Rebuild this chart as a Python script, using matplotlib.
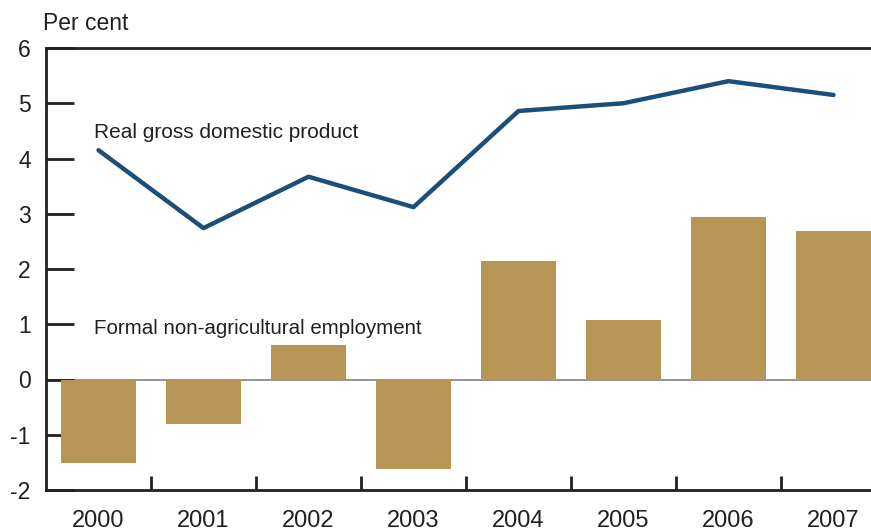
import matplotlib.pyplot as plt
import numpy as np

years = ["2000", "2001", "2002", "2003", "2004", "2005", "2006", "2007"]
gdp = [4.15, 2.74, 3.67, 3.12, 4.86, 5.00, 5.40, 5.15]
employment = [-1.51, -0.81, 0.62, -1.62, 2.14, 1.08, 2.94, 2.69]
y_ticks = [-2, -1, 0, 1, 2, 3, 4, 5, 6]

bar_color = "#b79655"
line_color = "#1b4f7a"
ink = "#231f20"

plt.rcParams["font.family"] = ["Liberation Sans", "DejaVu Sans"]

W, H = 871, 532
fig = plt.figure(figsize=(W / 100, H / 100), dpi=100)
# axes in pixel coordinates: left spine x=46, top y=48, bottom y=490
ax = fig.add_axes([46 / W, 1 - 490 / H, (W - 46) / W, (490 - 48) / H])

x = np.arange(len(years))
ax.bar(x, employment, width=0.72, color=bar_color, zorder=2)
ax.plot(x, gdp, color=line_color, lw=3.2, solid_capstyle="round", zorder=3)
ax.axhline(0, color="#808080", lw=1.2, zorder=1)

ax.set_xlim(-0.5, -0.5 + (W - 46) / 105)
ax.set_ylim(-2, 6)

for s in ["left", "top", "bottom"]:
    ax.spines[s].set_color(ink)
    ax.spines[s].set_linewidth(2)
ax.spines["right"].set_visible(False)

ax.set_yticks(y_ticks)
ax.set_yticklabels([str(v) for v in y_ticks])
ax.tick_params(axis="y", direction="in", length=20, width=2, color=ink,
               labelsize=16.5, labelcolor=ink, pad=11)
ax.set_xticks(x[:-1] + 0.5)
ax.set_xticklabels([])
ax.tick_params(axis="x", direction="in", length=10, width=2, color=ink)
for i, yr in enumerate(years):
    ax.text(i, -2.0 - 31 / 55.25, yr, ha="center", va="center",
            fontsize=17, color=ink, clip_on=False)

ax.text(-0.04, 4.47, "Real gross domestic product", fontsize=15, color=ink,
        ha="left", va="center")
ax.text(-0.04, 0.93, "Formal non-agricultural employment", fontsize=14.8,
        color=ink, ha="left", va="center")
fig.text(43 / W, 1 - 24 / H, "Per cent", fontsize=16.5, color=ink,
         ha="left", va="center")

fig.savefig("out.png", dpi=100)
